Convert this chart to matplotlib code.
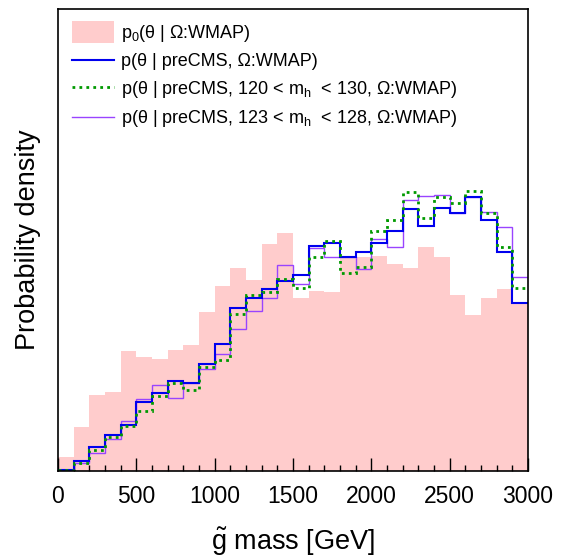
import numpy as np
import matplotlib
matplotlib.use("Agg")
import matplotlib.pyplot as plt
from matplotlib.ticker import MultipleLocator

plt.rcParams['font.family'] = ['Liberation Sans', 'DejaVu Sans']
plt.rcParams['mathtext.fontset'] = 'custom'
plt.rcParams['mathtext.rm'] = 'Liberation Sans'
plt.rcParams['mathtext.it'] = 'Liberation Sans:italic'
plt.rcParams['mathtext.bf'] = 'Liberation Sans:bold'

# gluino mass bins, 100 GeV wide
edges = np.arange(0, 3001, 100)

# prior (filled) and posteriors, arbitrary density units
prior = [14.3, 44.3, 75.7, 79, 120, 114.3, 112, 121, 126, 158.7,
         185.3, 203.3, 191, 227, 237.7, 172.7, 180, 179.3, 213.7, 213.7,
         215, 206.7, 202.7, 223.7, 213.7, 176, 156, 172.7, 182, 167]
post_precms = [1, 10, 23.7, 36, 46, 68.7, 78.3, 90.3, 88.3, 107.3,
               127.3, 162.7, 173.3, 181.7, 190.3, 196, 225, 227.7, 213.7, 219.3,
               228.3, 240, 261.7, 245, 262.7, 257.7, 273.7, 251, 218.7, 167.7]
post_mh120 = [0.7, 8.3, 21, 34.3, 45.3, 60, 75.3, 88.3, 81, 104.3,
              111, 156.7, 176.3, 178.7, 192, 182.7, 214.3, 230.3, 197.7, 203.7,
              240.3, 251, 278.7, 252.7, 274.3, 268.3, 280, 257.7, 223.7, 182.7]
post_mh123 = [0.7, 7.7, 18.3, 31.7, 50.3, 72.3, 86.3, 72.7, 88.3, 101.7,
              117.3, 142, 160, 172.7, 205.7, 187, 222.7, 213.7, 213.7, 201.7,
              231.7, 223.7, 271, 275, 275.7, 258.3, 273.7, 259, 244.3, 194.3]

labels = ['p$\\mathregular{_0}$(θ | Ω:WMAP)',
          'p(θ | preCMS, Ω:WMAP)',
          'p(θ | preCMS, 120 < m$\\mathregular{_h}$  < 130, Ω:WMAP)',
          'p(θ | preCMS, 123 < m$\\mathregular{_h}$  < 128, Ω:WMAP)']

fig = plt.figure(figsize=(5.64, 5.60), dpi=100)
ax = fig.add_axes([58/564, 89/560, 470/564, 462/560])

h0 = ax.stairs(prior, edges, fill=True, color='#ffcccc', lw=0, label=labels[0], zorder=1)
h3 = ax.stairs(post_mh123, edges, baseline=None, color='#9944ff', lw=1.0, label=labels[3], zorder=2)
h1 = ax.stairs(post_precms, edges, baseline=None, color='#0000ee', lw=1.5, label=labels[1], zorder=3)
h2 = ax.stairs(post_mh120, edges, baseline=None, color='#009900', lw=2.0,
               linestyle=(0, (1, 1.5)), label=labels[2], zorder=4)

ax.set_xlim(0, 3000)
ax.set_ylim(0, 462)
ax.set_yticks([])
ax.xaxis.set_major_locator(MultipleLocator(500))
ax.xaxis.set_minor_locator(MultipleLocator(100))
ax.tick_params(axis='x', which='major', direction='in', length=9.5, width=1,
               labelsize=16.5, pad=10)
ax.tick_params(axis='x', which='minor', direction='in', length=4.5, width=1)
for s in ax.spines.values():
    s.set_linewidth(1.2)
    s.set_zorder(5)

ax.set_xlabel(r'$\mathrm{\tilde{g}}$ mass [GeV]', fontsize=19.5, labelpad=13)
ax.set_ylabel('Probability density', fontsize=19.5, labelpad=12)

leg = ax.legend(handles=[h0, h1, h2, h3], loc='upper left', bbox_to_anchor=(0, 1),
                frameon=False, fontsize=13, handlelength=2.3, handletextpad=0.4,
                borderaxespad=0.2, borderpad=0.6, labelspacing=0.48)
# taller patch for the prior entry
r = leg.legend_handles[0]
hh = r.get_height()
r.set_height(hh * 1.7)
r.set_y(r.get_y() - hh * 0.35)

fig.savefig('out.png', dpi=100)
